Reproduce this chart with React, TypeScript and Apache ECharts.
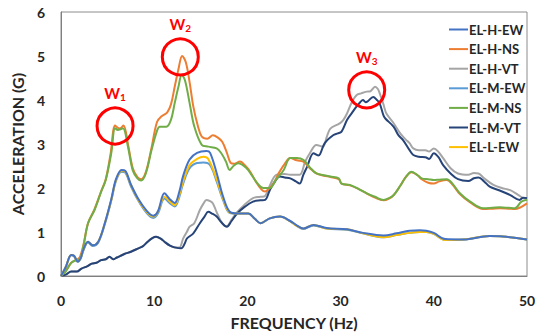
import React, { useEffect, useRef } from "react";
import * as echarts from "echarts";

const seriesNames = ["EL-H-EW", "EL-H-NS", "EL-H-VT", "EL-M-EW", "EL-M-NS", "EL-M-VT", "EL-L-EW"];
const seriesColors = ["#4472C4", "#ED7D31", "#A5A5A5", "#5B9BD5", "#70AD47", "#264478", "#FFC000"];
const xTicks = [0, 10, 20, 30, 40, 50];
const yTicks = [0, 1, 2, 3, 4, 5, 6];

// [frequency (Hz), acceleration (G)]
const hEW = [[0,0],[0.5,0.2],[1.1,0.48],[1.4,0.46],[1.8,0.33],[2.1,0.4],[2.4,0.6],[2.9,0.78],[3.4,0.7],[4.0,0.78],[4.7,1.2],[5.4,1.75],[5.9,2.2],[6.5,2.41],[6.9,2.39],[7.5,2.08],[8.3,1.75],[9.2,1.48],[9.9,1.37],[10.4,1.47],[11.1,1.88],[11.7,1.74],[12.2,1.66],[12.7,1.92],[13.1,2.27],[13.8,2.65],[14.6,2.8],[15.6,2.84],[16.0,2.8],[16.7,2.34],[17.4,1.8],[18.1,1.46],[18.9,1.42],[20.1,1.42],[20.8,1.3],[21.4,1.2],[22.4,1.31],[23.5,1.35],[24.6,1.25],[25.3,1.15],[26.0,1.08],[27.1,1.16],[28.5,1.09],[30.7,1.06],[32.4,0.98],[34.6,0.92],[36.0,0.97],[37.4,1.03],[38.5,1.04],[39.2,1.03],[40,0.98],[41.2,0.84],[43.2,0.83],[46.0,0.91],[47.4,0.9],[50,0.83]];
const hNS = [[0,0],[0.5,0.12],[1.1,0.3],[1.6,0.36],[2.0,0.42],[2.4,0.7],[2.9,1.2],[3.6,1.52],[4.3,1.92],[4.8,2.2],[5.3,2.75],[5.8,3.42],[6.1,3.37],[6.3,3.35],[6.7,3.42],[7.2,2.98],[7.7,2.45],[8.2,2.25],[8.6,2.2],[9.1,2.36],[9.7,2.9],[10.3,3.5],[10.8,3.63],[11.4,3.72],[11.8,3.9],[12.2,4.3],[12.6,4.7],[13.0,5.0],[13.4,4.85],[13.8,4.4],[14.2,3.85],[14.7,3.4],[15.1,3.17],[15.7,3.12],[16.3,3.2],[16.8,3.15],[17.3,3.05],[17.8,2.8],[18.2,2.57],[18.6,2.55],[19.2,2.6],[19.8,2.5],[20.3,2.37],[20.9,2.15],[21.5,1.97],[21.9,1.92],[22.4,2.0],[22.8,2.1],[23.4,2.35],[24.0,2.55],[24.6,2.68],[25.3,2.63],[26.0,2.6],[26.7,2.45],[27.4,2.33],[28.2,2.28],[28.9,2.25],[29.8,2.2],[30.1,2.1],[31.0,2.06],[32.0,1.97],[32.8,1.88],[33.7,1.78],[34.6,1.72],[35.2,1.76],[35.7,1.84],[36.4,2.05],[37.0,2.25],[37.6,2.36],[38.2,2.3],[38.7,2.2],[39.4,2.12],[40.0,2.1],[40.6,2.15],[41.4,2.18],[42.0,2.08],[42.8,1.86],[43.9,1.67],[45.3,1.52],[46.3,1.53],[47.1,1.54],[48.0,1.53],[48.7,1.52],[49.3,1.56],[50,1.65]];
const hVT = [[0,0],[0.5,0.03],[1.1,0.1],[1.7,0.1],[2.2,0.17],[2.8,0.22],[3.3,0.28],[3.8,0.3],[4.3,0.36],[4.8,0.38],[5.2,0.44],[5.6,0.38],[6.0,0.42],[6.8,0.5],[7.5,0.55],[8.3,0.63],[8.8,0.68],[9.3,0.78],[9.8,0.86],[10.2,0.89],[10.7,0.85],[11.1,0.78],[11.7,0.69],[12.2,0.65],[12.7,0.65],[13.1,0.85],[13.5,1.0],[13.8,1.12],[14.3,1.2],[14.9,1.5],[15.3,1.65],[15.6,1.73],[16.0,1.7],[16.3,1.65],[16.7,1.45],[17.1,1.27],[17.5,1.15],[17.8,1.13],[18.3,1.28],[18.9,1.45],[19.7,1.62],[20.6,1.77],[21.4,1.8],[21.9,1.82],[22.4,2.05],[23.1,2.3],[24.0,2.32],[24.6,2.3],[25.6,2.3],[26.2,2.6],[26.7,2.79],[27.4,2.98],[28.1,2.94],[28.5,3.15],[28.9,3.35],[29.9,3.47],[30.3,3.55],[30.7,3.7],[31.2,3.95],[31.7,4.11],[32.2,4.15],[32.8,4.19],[33.2,4.2],[33.7,4.3],[34.0,4.25],[34.2,4.15],[34.6,3.9],[34.9,3.7],[35.6,3.5],[36.4,3.24],[37.0,3.1],[37.4,3.02],[37.8,2.9],[38.4,2.86],[39.1,2.86],[39.5,2.83],[40,2.9],[40.5,2.82],[41.0,2.68],[41.8,2.45],[42.6,2.33],[43.7,2.3],[44.3,2.34],[44.8,2.33],[45.4,2.22],[46.4,2.07],[47.3,2.0],[48.2,1.95],[49.0,1.85],[49.6,1.77],[50,1.75]];
const mEW = [[0,0],[0.5,0.2],[1.1,0.47],[1.4,0.45],[1.8,0.32],[2.1,0.39],[2.4,0.58],[2.9,0.76],[3.4,0.68],[4.0,0.76],[4.7,1.18],[5.4,1.72],[5.9,2.16],[6.5,2.37],[6.9,2.35],[7.5,2.04],[8.3,1.71],[9.2,1.43],[9.9,1.32],[10.4,1.42],[11.1,1.76],[11.7,1.65],[12.2,1.58],[12.7,1.8],[13.1,2.1],[13.8,2.45],[14.6,2.57],[15.3,2.58],[16.0,2.52],[16.7,2.15],[17.4,1.72],[18.1,1.43],[18.9,1.42],[20.1,1.42],[20.8,1.3],[21.4,1.2],[22.4,1.31],[23.5,1.35],[24.6,1.24],[25.3,1.14],[26.0,1.07],[27.1,1.15],[28.5,1.08],[30.7,1.05],[32.4,0.97],[34.6,0.88],[36.0,0.93],[37.4,0.98],[38.5,1.0],[39.2,1.0],[40,0.96],[41.2,0.82],[43.2,0.83],[46.0,0.91],[47.4,0.9],[50,0.83]];
const mNS = [[0,0],[0.5,0.1],[1.1,0.3],[1.6,0.36],[2.0,0.38],[2.4,0.67],[2.9,1.2],[3.6,1.5],[4.3,1.91],[4.8,2.18],[5.4,2.8],[5.8,3.36],[6.1,3.32],[6.3,3.33],[6.65,3.36],[7.2,2.92],[7.7,2.4],[8.2,2.22],[8.6,2.17],[9.1,2.33],[9.7,2.85],[10.3,3.3],[10.6,3.39],[11.3,3.39],[11.8,3.55],[12.2,3.93],[12.6,4.3],[12.95,4.57],[13.3,4.45],[13.8,3.93],[14.3,3.4],[15.1,2.98],[15.8,2.94],[16.7,2.9],[17.2,2.79],[17.7,2.6],[18.1,2.41],[18.5,2.5],[19.0,2.56],[19.9,2.45],[20.5,2.28],[21.1,2.1],[21.7,2.0],[22.4,2.0],[23.1,2.2],[23.9,2.41],[24.6,2.68],[25.3,2.68],[26.0,2.64],[26.7,2.47],[27.4,2.33],[28.2,2.29],[28.9,2.26],[29.8,2.22],[30.1,2.1],[31.0,2.07],[32.0,1.97],[32.8,1.88],[33.7,1.8],[34.6,1.73],[35.2,1.77],[35.7,1.84],[36.4,2.05],[37.0,2.25],[37.6,2.37],[38.2,2.3],[38.7,2.22],[39.4,2.2],[40.0,2.18],[40.6,2.19],[41.4,2.2],[42.0,2.1],[42.8,1.88],[43.9,1.69],[45.3,1.54],[46.3,1.55],[47.1,1.56],[48.0,1.55],[48.7,1.54],[49.4,1.69],[50,1.73]];
const mVT = [[0,0],[0.5,0.03],[1.1,0.1],[1.7,0.1],[2.2,0.17],[2.8,0.22],[3.3,0.28],[3.8,0.3],[4.3,0.36],[4.8,0.38],[5.2,0.44],[5.6,0.38],[6.0,0.42],[6.8,0.5],[7.5,0.55],[8.3,0.63],[8.8,0.68],[9.3,0.78],[9.8,0.86],[10.2,0.89],[10.7,0.85],[11.1,0.78],[11.7,0.69],[12.2,0.65],[12.9,0.63],[13.3,0.75],[13.5,0.85],[14.2,0.97],[14.9,1.2],[15.4,1.35],[15.8,1.46],[16.2,1.42],[16.7,1.35],[17.2,1.22],[17.8,1.12],[18.3,1.25],[18.9,1.42],[19.7,1.57],[20.6,1.69],[21.4,1.72],[21.9,1.73],[22.4,1.95],[22.8,2.1],[23.5,2.26],[24.0,2.24],[24.6,2.22],[25.2,2.15],[25.6,2.1],[26.0,2.3],[26.4,2.48],[27.1,2.79],[27.6,2.74],[27.8,2.77],[28.3,3.02],[29.2,3.2],[29.7,3.24],[30.1,3.28],[30.7,3.55],[31.2,3.7],[31.7,3.85],[32.1,3.95],[32.4,4.0],[32.7,3.95],[32.9,3.97],[33.5,4.07],[33.9,4.0],[34.2,3.92],[34.6,3.65],[34.8,3.58],[35.7,3.39],[36.2,3.2],[36.7,3.09],[37.4,2.86],[37.8,2.75],[38.4,2.71],[39.1,2.7],[39.5,2.66],[40.0,2.79],[40.5,2.7],[41.0,2.52],[41.8,2.33],[42.6,2.2],[43.7,2.16],[44.3,2.22],[44.8,2.24],[45.4,2.15],[46.0,2.03],[47.0,1.95],[48.2,1.84],[49.2,1.73],[49.6,1.78],[50,1.77]];
const lEW = [[0,0],[0.5,0.2],[1.1,0.48],[1.4,0.46],[1.8,0.33],[2.1,0.4],[2.4,0.59],[2.9,0.78],[3.4,0.7],[4.0,0.78],[4.7,1.2],[5.4,1.73],[5.9,2.18],[6.5,2.39],[6.9,2.37],[7.5,2.07],[8.3,1.73],[9.2,1.46],[9.9,1.35],[10.4,1.46],[11.1,1.8],[11.7,1.69],[12.2,1.61],[12.7,1.85],[13.1,2.15],[13.8,2.52],[14.6,2.66],[15.3,2.71],[15.8,2.66],[16.7,2.2],[17.4,1.75],[18.1,1.44],[18.9,1.42],[20.1,1.42],[20.8,1.3],[21.4,1.2],[22.4,1.31],[23.5,1.35],[24.6,1.24],[25.3,1.14],[26.0,1.08],[27.1,1.16],[28.5,1.08],[30.7,1.06],[32.4,0.97],[34.6,0.88],[36.0,0.93],[37.4,0.98],[38.5,1.0],[39.2,1.0],[40,0.96],[41.2,0.82],[43.2,0.83],[46.0,0.91],[47.4,0.9],[50,0.83]];

const seriesData = [hEW, hNS, hVT, mEW, mNS, mVT, lEW];

// annotation peaks: [label subscript, frequency, acceleration]
const peakLabels = ["1", "2", "3"];
const peakCoords = [[5.8, 3.41], [12.8, 4.98], [32.8, 4.23]];

const FONT = "Lato, 'Open Sans', sans-serif";

export default function App() {
  const ref = useRef<HTMLDivElement>(null);
  useEffect(() => {
    const chart = echarts.init(ref.current!, null, { renderer: "svg" });
    const drawOrder = [2, 5, 1, 4, 3, 6, 0];
    const series: any[] = drawOrder.map((i) => ({
      name: seriesNames[i],
      type: "line",
      data: seriesData[i],
      smooth: 0.35,
      showSymbol: false,
      symbol: "none",
      lineStyle: { width: 2, color: seriesColors[i] },
      itemStyle: { color: seriesColors[i] },
      z: 2,
    }));
    series.push({
      name: "peaks",
      type: "line",
      data: [],
      markPoint: {
        silent: true,
        symbol: "circle",
        symbolSize: 36,
        itemStyle: { color: "rgba(0,0,0,0)", borderColor: "#FF0000", borderWidth: 3 },
        label: {
          show: true,
          position: "top",
          distance: 4,
          formatter: (p: any) => `{w|W}{s|${p.name}}`,
          rich: {
            w: { fontFamily: FONT, fontWeight: "bold", fontSize: 15, color: "#FF0000", lineHeight: 18 },
            s: { fontFamily: FONT, fontWeight: "bold", fontSize: 10, color: "#FF0000", lineHeight: 10, verticalAlign: "bottom" },
          },
        },
        data: peakCoords.map((c, k) => ({ name: peakLabels[k], coord: c })),
      },
      z: 5,
    });

    chart.setOption({
      animation: false,
      grid: { left: 61, top: 12, right: 16, bottom: 59, show: true, borderColor: "#8c8c8c", borderWidth: 1 },
      legend: {
        data: seriesNames,
        orient: "vertical",
        left: 444,
        top: 17,
        icon: "rect",
        itemWidth: 19,
        itemHeight: 2,
        itemGap: 4.6,
        textStyle: { fontFamily: FONT, fontWeight: "bold", fontSize: 13, color: "#262626", lineHeight: 15, padding: [0, 0, 0, -4] },
      },
      xAxis: {
        type: "value",
        min: xTicks[0],
        max: xTicks[xTicks.length - 1],
        interval: 10,
        name: "FREQUENCY (Hz)",
        nameLocation: "middle",
        nameGap: 38,
        nameTextStyle: { fontFamily: FONT, fontWeight: "bold", fontSize: 16, color: "#262626" },
        axisLine: { lineStyle: { color: "#7f7f7f", width: 1 } },
        axisTick: { show: false },
        splitLine: { show: false },
        axisLabel: { fontFamily: FONT, fontWeight: "bold", fontSize: 14, color: "#262626", margin: 17 },
      },
      yAxis: {
        type: "value",
        min: yTicks[0],
        max: yTicks[yTicks.length - 1],
        interval: 1,
        name: "ACCELERATION (G)",
        nameLocation: "middle",
        nameGap: 25,
        nameTextStyle: { fontFamily: FONT, fontWeight: "bold", fontSize: 16, color: "#262626" },
        axisLine: { show: true, lineStyle: { color: "#7f7f7f", width: 1 } },
        axisTick: { show: false },
        splitLine: { show: false },
        axisLabel: { fontFamily: FONT, fontWeight: "bold", fontSize: 14, color: "#262626", margin: 16 },
      },
      series,
    });
    return () => chart.dispose();
  }, []);
  return <div ref={ref} style={{ width: 543, height: 335, position: "absolute", left: 0, top: 0, background: "#fff" }} />;
}
